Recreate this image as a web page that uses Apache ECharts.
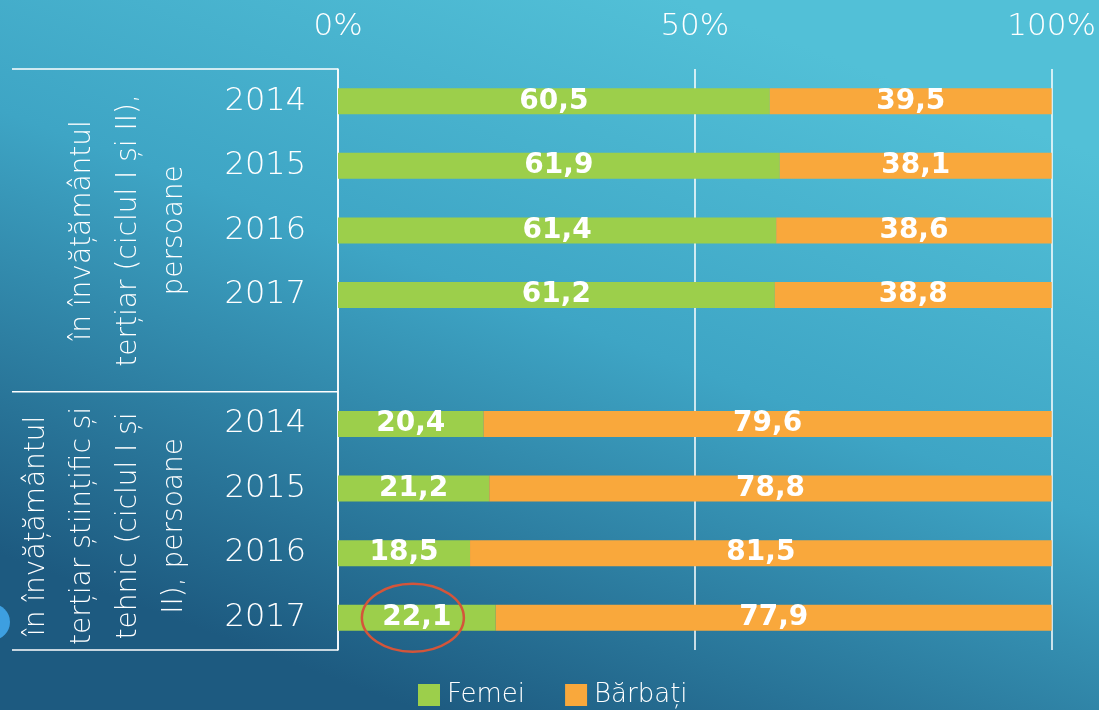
<!DOCTYPE html>
<html>
<head>
<meta charset="utf-8">
<script src="https://cdn.jsdelivr.net/npm/echarts@6/dist/echarts.min.js"></script>
<style>
  html, body { margin: 0; padding: 0; }
  #chart { width: 1099px; height: 710px; }
</style>
</head>
<body>
<div id="chart"></div>
<script>
// rows of the chart, top to bottom (empty row separates the two groups)
const years = ['2014', '2015', '2016', '2017', '', '2014', '2015', '2016', '2017'];
const femei = [60.5, 61.9, 61.4, 61.2, null, 20.4, 21.2, 18.5, 22.1];
const barbati = [39.5, 38.1, 38.6, 38.8, null, 79.6, 78.8, 81.5, 77.9];
const groupLabels = [
  'în învățământul\nterțiar (ciclul I și II),\npersoane',
  'în învățământul\nterțiar științific și\ntehnic (ciclul I și\nII), persoane'
];
const seriesNames = ['Femei', 'Bărbați'];
const xTicks = [0, 50, 100];

const font = '"DejaVu Sans", sans-serif';
const gridTop = 69, gridBottom = 60, gridLeft = 338, gridRight = 46;

const chart = echarts.init(document.getElementById('chart'));

const fmt = p => (p.value == null ? '' : p.value.toFixed(1).replace('.', ','));

const option = {
  backgroundColor: new echarts.graphic.LinearGradient(0.62, 0, 0.38, 1, [
    { offset: 0, color: '#52c0d7' },
    { offset: 0.45, color: '#3ea5c5' },
    { offset: 1, color: '#1d5a80' }
  ]),
  animation: false,
  grid: { left: gridLeft, right: gridRight, top: gridTop, bottom: gridBottom },
  legend: {
    data: seriesNames,
    left: 413,
    top: 677,
    itemWidth: 22,
    itemHeight: 22,
    itemGap: 40,
    icon: 'rect',
    textStyle: { color: '#ffffff', fontSize: 26, fontFamily: font, fontWeight: 200, padding: [0, 0, 0, 2] }
  },
  xAxis: {
    type: 'value',
    position: 'top',
    min: xTicks[0],
    max: xTicks[xTicks.length - 1],
    interval: xTicks[1] - xTicks[0],
    axisLine: { show: false },
    axisTick: { show: false },
    axisLabel: {
      color: '#ffffff',
      fontSize: 31,
      fontFamily: font,
      fontWeight: 200,
      margin: 27,
      formatter: '{value}%'
    },
    splitLine: { show: true, lineStyle: { color: '#ffffff', width: 1.5 } }
  },
  yAxis: {
    type: 'category',
    inverse: true,
    data: years,
    axisLine: { show: true, lineStyle: { color: '#ffffff', width: 1.5 } },
    axisTick: { show: false },
    axisLabel: {
      color: '#ffffff',
      fontSize: 32,
      fontFamily: font,
      fontWeight: 200,
      margin: 32
    }
  },
  series: [
    {
      name: seriesNames[0],
      type: 'bar',
      stack: 'total',
      barWidth: 26,
      data: femei,
      itemStyle: { color: '#9ccf4b' },
      label: {
        show: true,
        position: 'inside',
        color: '#ffffff',
        fontSize: 28,
        fontWeight: 'bold',
        fontFamily: font,
        formatter: fmt
      }
    },
    {
      name: seriesNames[1],
      type: 'bar',
      stack: 'total',
      barWidth: 26,
      data: barbati,
      itemStyle: { color: '#f9a83c' },
      label: {
        show: true,
        position: 'inside',
        color: '#ffffff',
        fontSize: 28,
        fontWeight: 'bold',
        fontFamily: font,
        formatter: fmt
      }
    }
  ]
};

chart.setOption(option);

// table frame on the left, group titles and the highlight ellipse
const yTop = gridTop;
const yBottom = 710 - gridBottom;
const band = chart.convertToPixel({ yAxisIndex: 0 }, 5) - chart.convertToPixel({ yAxisIndex: 0 }, 4);
const yMid = chart.convertToPixel({ yAxisIndex: 0 }, 4) + band / 2;
const mark = chart.convertToPixel({ gridIndex: 0 }, [femei[8] / 2, 8]);

const hLine = y => ({
  type: 'line',
  shape: { x1: 12, y1: y, x2: gridLeft, y2: y },
  style: { stroke: '#ffffff', lineWidth: 1.5 }
});

const groupText = (x, y, text) => ({
  type: 'text',
  x: x,
  y: y,
  rotation: Math.PI / 2,
  style: {
    text: text,
    fill: '#ffffff',
    font: '200 28px ' + font,
    align: 'center',
    verticalAlign: 'middle',
    lineHeight: 46
  }
});

chart.setOption({
  graphic: [
    hLine(yTop),
    hLine(yMid),
    hLine(yBottom),
    groupText(129, (yTop + yMid) / 2, groupLabels[0]),
    groupText(106, (yMid + yBottom) / 2 + 5, groupLabels[1]),
    {
      type: 'circle',
      shape: { cx: -8, cy: 622, r: 18 },
      style: { fill: '#3d9fe0' }
    },
    {
      type: 'ellipse',
      shape: { cx: mark[0] - 4, cy: mark[1], rx: 51, ry: 34 },
      style: { fill: 'none', stroke: '#d4553a', lineWidth: 2.5 },
      z: 100
    }
  ]
});
</script>
</body>
</html>
